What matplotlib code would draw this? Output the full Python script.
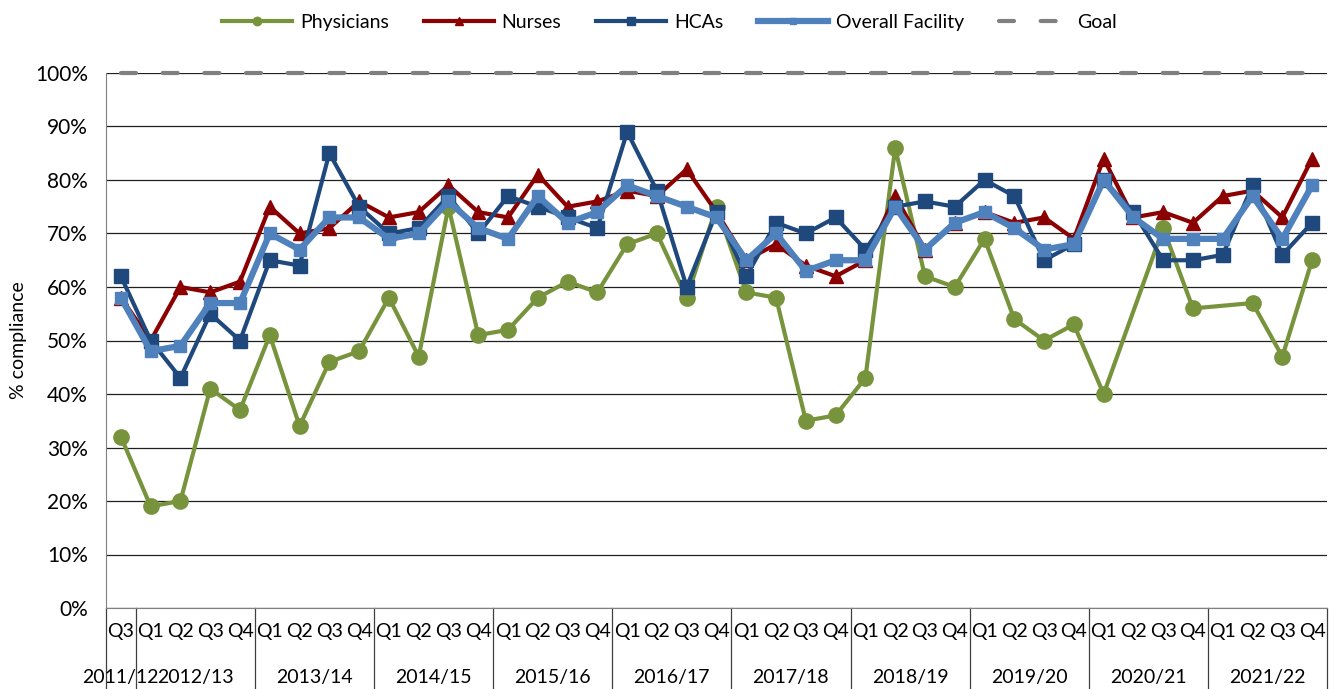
import numpy as np
import matplotlib.pyplot as plt
from matplotlib.transforms import blended_transform_factory

plt.rcParams['font.family'] = ['Lato', 'DejaVu Sans']

# categories
quarters = ['Q3'] + ['Q1', 'Q2', 'Q3', 'Q4'] * 10
years = ['2011/12', '2012/13', '2013/14', '2014/15', '2015/16', '2016/17',
         '2017/18', '2018/19', '2019/20', '2020/21', '2021/22']
year_len = [1, 4, 4, 4, 4, 4, 4, 4, 4, 4, 4]

nan = np.nan
physicians = [32, 19, 20, 41, 37, 51, 34, 46, 48, 58, 47, 75, 51, 52, 58, 61, 59, 68, 70, 58, 75,
              59, 58, 35, 36, 43, 86, 62, 60, 69, 54, 50, 53, 40, nan, 71, 56, nan, 57, 47, 65]
nurses = [58, 50, 60, 59, 61, 75, 70, 71, 76, 73, 74, 79, 74, 73, 81, 75, 76, 78, 77, 82, 74,
          65, 68, 64, 62, 65, 77, 67, 72, 74, 72, 73, 69, 84, 73, 74, 72, 77, 78, 73, 84]
hcas = [62, 50, 43, 55, 50, 65, 64, 85, 75, 70, 71, 77, 70, 77, 75, 73, 71, 89, 78, 60, 74,
        62, 72, 70, 73, 67, 75, 76, 75, 80, 77, 65, 68, 80, 74, 65, 65, 66, 79, 66, 72]
overall = [58, 48, 49, 57, 57, 70, 67, 73, 73, 69, 70, 76, 71, 69, 77, 72, 74, 79, 77, 75, 73,
           65, 70, 63, 65, 65, 75, 67, 72, 74, 71, 67, 68, 80, 73, 69, 69, 69, 77, 69, 79]
goal = [100] * len(quarters)

fs = 14

fig = plt.figure(figsize=(13.39, 6.89), dpi=100)
ax = fig.add_axes([106 / 1339, 81 / 689, 1221 / 1339, 535 / 689])

x = np.arange(len(quarters))


def plot_series(vals, **kw):
    v = np.array(vals, dtype=float)
    ok = ~np.isnan(v)
    # connect across gaps like the original
    return ax.plot(x[ok], v[ok], **kw)[0]


h1 = plot_series(physicians, color='#77933C', lw=3, marker='o', ms=11, label='Physicians', zorder=3)
h2 = plot_series(nurses, color='#8B0000', lw=3, marker='^', ms=10, label='Nurses', zorder=4)
h3 = plot_series(hcas, color='#1F497D', lw=3, marker='s', ms=10, label='HCAs', zorder=5)
h4 = plot_series(overall, color='#4F81BD', lw=4.5, marker='s', ms=9, label='Overall Facility', zorder=6)
h5 = plot_series(goal, color='#808080', lw=3, ls=(0, (3.6, 6.4)), dash_capstyle='round',
                 label='Goal', zorder=7, clip_on=False)

ax.set_xlim(-0.5, len(quarters) - 0.5)
ax.set_ylim(0, 100)
ax.set_yticks(np.arange(0, 101, 10))
ax.set_yticklabels([f'{v}%' for v in range(0, 101, 10)], fontsize=15)
ax.yaxis.grid(True, color='#202020', lw=0.9)
ax.set_axisbelow(True)
ax.tick_params(axis='y', length=0, pad=13)
fig.text(19 / 1339, 1 - 340 / 689, '% compliance', rotation=90, ha='center', va='center', fontsize=fs)

ax.set_xticks(x)
ax.set_xticklabels(quarters, fontsize=fs)
ax.tick_params(axis='x', length=0, pad=11)

for s in ['top', 'right']:
    ax.spines[s].set_visible(False)
ax.spines['left'].set_color('#808080')
ax.spines['bottom'].set_color('#808080')

# year labels and separators under the axis
tr = blended_transform_factory(ax.transData, ax.transAxes)
bounds = np.concatenate([[0], np.cumsum(year_len)]) - 0.5
for b in bounds:
    ax.plot([b, b], [0, -0.152], transform=tr, color='#404040', lw=0.9, clip_on=False)
for i, yl in enumerate(years):
    mid = (bounds[i] + bounds[i + 1]) / 2
    ax.text(mid, -0.13, yl, transform=tr, ha='center', va='center', fontsize=fs)

fig.legend(handles=[h1, h2, h3, h4, h5], loc='upper center', bbox_to_anchor=(0.5, 1.005),
           ncol=5, frameon=False, fontsize=fs, handlelength=3.6, handletextpad=0.4,
           columnspacing=1.8, markerscale=0.55)

fig.savefig('out.png', dpi=100)
